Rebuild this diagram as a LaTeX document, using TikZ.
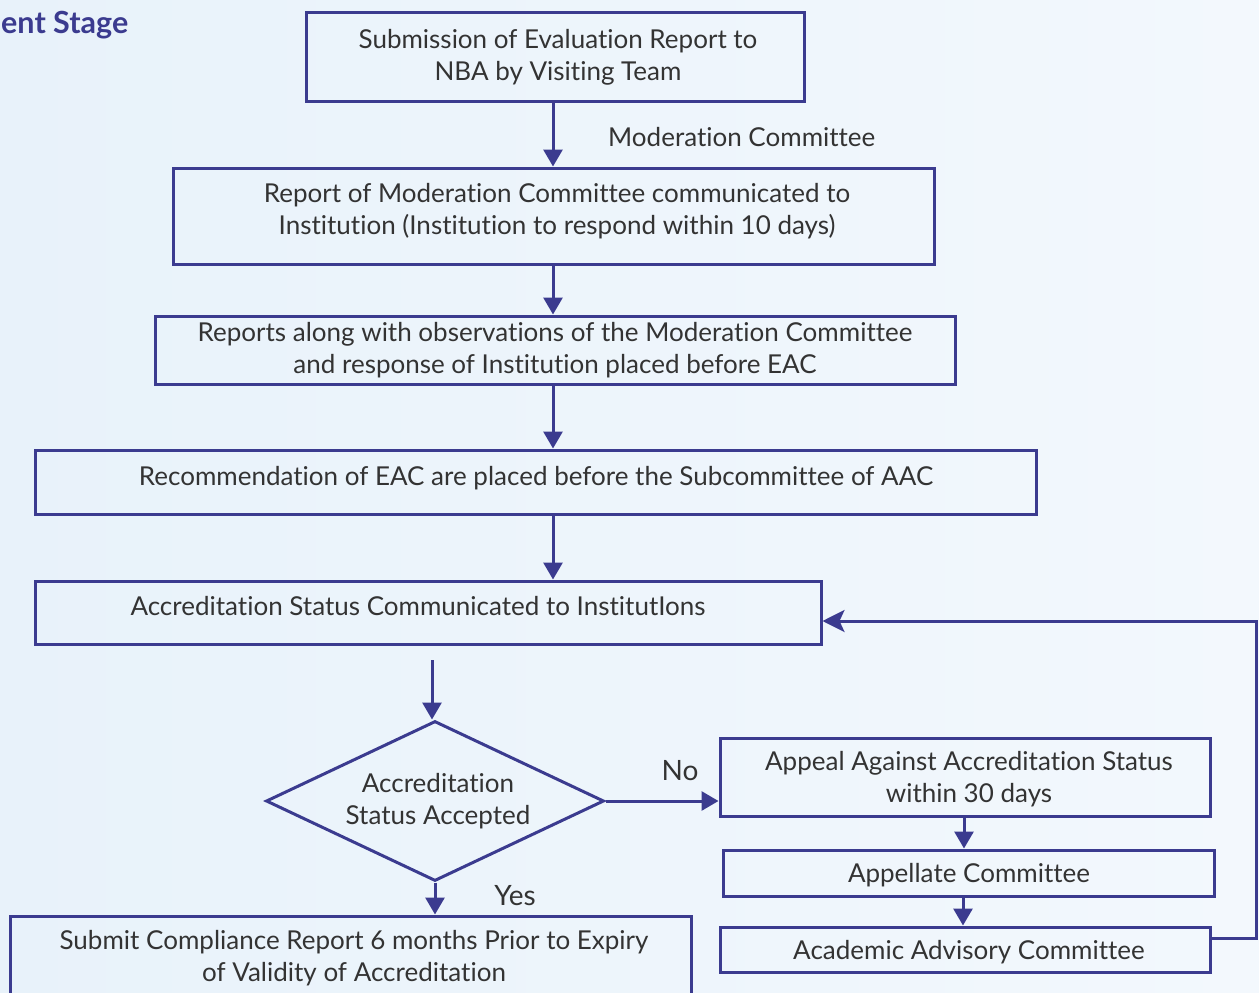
\documentclass[tikz,border=0pt]{standalone}
\usepackage{fontspec}
\setmainfont{Lato}[Ligatures=NoCommon]
\usetikzlibrary{shapes.geometric,arrows.meta}
\definecolor{bord}{HTML}{3B3B8F}
\definecolor{txt}{HTML}{333333}
\definecolor{bgl}{HTML}{E8F2FA}
\definecolor{bgr}{HTML}{F3F8FD}
\tikzset{
  box/.style={draw=bord, line width=3pt, rectangle, align=center, inner sep=0pt,
    text=txt, font=\fontsize{26}{32}\selectfont},
  dia/.style={draw=bord, line width=3pt, diamond, inner sep=0pt},
  lbl/.style={text=txt, font=\fontsize{26}{32}\selectfont, inner sep=0pt, align=center},
  arr/.style={draw=bord, line width=3pt, -{Triangle[length=17pt,width=19pt]}},
  larr/.style={draw=bord, line width=3pt, -{Stealth[length=22pt,width=22pt,inset=5pt]}},
}
\begin{document}
\begin{tikzpicture}[x=1pt,y=-1pt]
\useasboundingbox (0,0) rectangle (1259,993);
\shade[left color=bgl, right color=bgr] (0,0) rectangle (1259,993);
\node[anchor=base west, inner sep=0pt, text=bord, font=\fontsize{30.5}{32}\selectfont\bfseries] (title) at (1,34) {ent Stage};

\node[box, minimum width=498pt, minimum height=89pt] (n1) at (555,56.5) {};
\node[lbl] (t1) at (558,57) {Submission of Evaluation Report to\\NBA by Visiting Team};
\node[box, minimum width=761pt, minimum height=96pt] (n2) at (553.5,216) {};
\node[lbl] (t2) at (557,211) {Report of Moderation Committee communicated to\\Institution (Institution to respond within 10 days)};
\node[box, minimum width=800pt, minimum height=68pt] (n3) at (555,350) {};
\node[lbl] (t3) at (555,350) {Reports along with observations of the Moderation Committee\\and response of Institution placed before EAC};
\node[box, minimum width=1001pt, minimum height=64pt] (n4) at (535.5,482) {};
\node[lbl] (t4) at (536,478) {Recommendation of EAC are placed before the Subcommittee of AAC};
\node[box, minimum width=786pt, minimum height=63pt] (n5) at (428,612.5) {};
\node[lbl] (t5) at (418,606) {Accreditation Status Communicated to InstitutIons};
\node[dia, minimum width=338pt, minimum height=160pt] (d) at (435,801) {};
\node[lbl] (td) at (438,801) {Accreditation\\Status Accepted};
\node[box, minimum width=490pt, minimum height=78pt] (n7) at (965,777) {};
\node[lbl] (t7) at (969,779) {Appeal Against Accreditation Status\\within 30 days};
\node[box, minimum width=491pt, minimum height=46pt] (n8) at (968.5,873) {};
\node[lbl] (t8) at (969,875) {Appellate Committee};
\node[box, minimum width=490pt, minimum height=45pt] (n9) at (965,949.5) {};
\node[lbl] (t9) at (969,952) {Academic Advisory Committee};
\node[box, minimum width=681pt, minimum height=84pt] (n10) at (350.5,958) {};
\node[lbl] (t10) at (354,958) {Submit Compliance Report 6 months Prior to Expiry\\of Validity of Accreditation};

\node[lbl, anchor=west] (mc) at (608,137) {Moderation Committee};
\node[lbl, font=\fontsize{28}{32}\selectfont] (no) at (680,771) {No};
\node[lbl, font=\fontsize{28}{32}\selectfont] (yes) at (515,896) {Yes};

\coordinate (xa) at (553,0);
\coordinate (s5) at (432,660);
\coordinate (xb) at (964,0);
\coordinate (xc) at (963,0);
\coordinate (c1) at (1256,938);
\coordinate (c2) at (0,621);

\draw[arr] (n1.south -| xa) -- (n2.north -| xa);
\draw[arr] (n2.south -| xa) -- (n3.north -| xa);
\draw[arr] (n3.south -| xa) -- (n4.north -| xa);
\draw[arr] (n4.south -| xa) -- (n5.north -| xa);
\draw[arr] (s5) -- (s5 |- d.north);
\draw[arr] (d.east) -- (n7.west |- d.east);
\draw[arr] (d.south) -- (n10.north -| d.south);
\draw[arr] (n7.south -| xb) -- (n8.north -| xb);
\draw[arr] (n8.south -| xc) -- (n9.north -| xc);
\draw[larr] (n9.east |- c1) -- (c1) |- (n5.east |- c2);
\end{tikzpicture}
\end{document}
